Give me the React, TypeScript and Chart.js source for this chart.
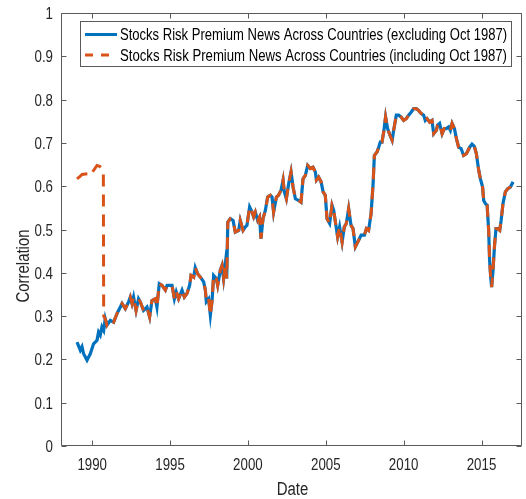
import React, { useEffect, useRef } from 'react';
import { Chart, registerables } from 'chart.js';

Chart.register(...registerables);

const dates = [
  1989.03, 1989.24, 1989.35, 1989.45, 1989.67, 1989.88, 1990.09, 1990.31, 1990.41, 1990.52,
  1990.63, 1990.74, 1990.84, 1990.95, 1991.17, 1991.38, 1991.6, 1991.81, 1991.92, 1992.13,
  1992.34, 1992.45, 1992.56, 1992.66, 1992.82, 1992.98, 1993.09, 1993.3, 1993.52, 1993.69,
  1993.84, 1994.06, 1994.16, 1994.31, 1994.49, 1994.7, 1994.81, 1995.13, 1995.28, 1995.4,
  1995.55, 1995.77, 1995.92, 1996.09, 1996.26, 1996.35, 1996.52, 1996.62, 1996.77, 1996.95,
  1997.16, 1997.27, 1997.33, 1997.48, 1997.59, 1997.7, 1997.8, 1997.97, 1998.06, 1998.23,
  1998.34, 1998.44, 1998.55, 1998.64, 1998.71, 1998.87, 1999.05, 1999.19, 1999.41, 1999.51,
  1999.69, 1999.84, 1999.94, 2000.11, 2000.27, 2000.37, 2000.48, 2000.63, 2000.75, 2000.84,
  2000.97, 2001.12, 2001.27, 2001.44, 2001.55, 2001.65, 2001.83, 2001.97, 2002.13, 2002.26,
  2002.34, 2002.47, 2002.62, 2002.77, 2002.9, 2003.05, 2003.26, 2003.41, 2003.54, 2003.69,
  2003.84, 2004.01, 2004.18, 2004.33, 2004.4, 2004.54, 2004.7, 2004.83, 2004.97, 2005.08,
  2005.25, 2005.4, 2005.51, 2005.62, 2005.76, 2005.89, 2006.05, 2006.19, 2006.32, 2006.47,
  2006.62, 2006.75, 2006.9, 2007.11, 2007.27, 2007.48, 2007.61, 2007.75, 2007.91, 2008.04,
  2008.12, 2008.29, 2008.4, 2008.5, 2008.61, 2008.72, 2008.84, 2008.97, 2009.1, 2009.26,
  2009.36, 2009.53, 2009.68, 2009.83, 2010.0, 2010.17, 2010.32, 2010.48, 2010.64, 2010.82,
  2010.96, 2011.12, 2011.29, 2011.39, 2011.5, 2011.67, 2011.82, 2011.93, 2012.1, 2012.18,
  2012.31, 2012.47, 2012.61, 2012.74, 2012.89, 2013.0, 2013.11, 2013.26, 2013.39, 2013.53,
  2013.69, 2013.85, 2014.03, 2014.24, 2014.39, 2014.54, 2014.67, 2014.82, 2014.93, 2015.07,
  2015.14, 2015.25, 2015.36, 2015.46, 2015.52, 2015.59, 2015.65, 2015.74, 2015.83, 2015.93,
  2016.04, 2016.17, 2016.26, 2016.38, 2016.53, 2016.68, 2016.85, 2017.03,
];

const exclValues = [
  0.24, 0.221, 0.229, 0.213, 0.198, 0.213, 0.236, 0.244, 0.263, 0.256,
  0.275, 0.267, 0.294, 0.279, 0.29, 0.286, 0.306, 0.321, 0.329, 0.317,
  0.333, 0.344, 0.329, 0.344, 0.313, 0.34, 0.333, 0.313, 0.321, 0.298,
  0.336, 0.34, 0.321, 0.375, 0.371, 0.36, 0.371, 0.371, 0.34, 0.356,
  0.34, 0.36, 0.344, 0.352, 0.371, 0.394, 0.39, 0.412, 0.398, 0.39,
  0.379, 0.36, 0.333, 0.34, 0.302, 0.336, 0.394, 0.387, 0.371, 0.406,
  0.417, 0.387, 0.421, 0.387, 0.517, 0.525, 0.521, 0.494, 0.498, 0.521,
  0.498, 0.506, 0.51, 0.552, 0.54, 0.529, 0.54, 0.521, 0.529, 0.479,
  0.525, 0.544, 0.575, 0.579, 0.575, 0.54, 0.575, 0.579, 0.591, 0.614,
  0.587, 0.571, 0.606, 0.633, 0.598, 0.571, 0.567, 0.563, 0.617, 0.625,
  0.648, 0.641, 0.644, 0.633, 0.614, 0.621, 0.61, 0.587, 0.579, 0.525,
  0.514, 0.556, 0.544, 0.517, 0.483, 0.506, 0.471, 0.506, 0.514, 0.548,
  0.51, 0.502, 0.46, 0.475, 0.487, 0.487, 0.502, 0.498, 0.537, 0.606,
  0.671, 0.679, 0.69, 0.702, 0.702, 0.725, 0.76, 0.733, 0.72, 0.706,
  0.729, 0.764, 0.764, 0.76, 0.752, 0.756, 0.764, 0.771, 0.779, 0.779,
  0.775, 0.768, 0.764, 0.752, 0.756, 0.748, 0.752, 0.721, 0.729, 0.741,
  0.745, 0.721, 0.733, 0.733, 0.737, 0.729, 0.745, 0.733, 0.71, 0.69,
  0.687, 0.671, 0.675, 0.69, 0.697, 0.692, 0.675, 0.637, 0.617, 0.598,
  0.567, 0.56, 0.556, 0.498, 0.429, 0.39, 0.367, 0.406, 0.46, 0.502,
  0.502, 0.498, 0.521, 0.56, 0.587, 0.594, 0.598, 0.61,
];

// Series including Oct 1987: differs only in the first window, then equals the other series
const inclEarlyDates = [1989.03, 1989.24, 1989.35, 1989.77, 1989.88, 1989.99, 1990.31, 1990.48, 1990.63, 1990.72, 1990.74];
const inclEarlyValues = [0.617, 0.623, 0.627, 0.629, 0.625, 0.631, 0.648, 0.646, 0.641, 0.636, 0.3];
const inclJoinAfter = 1990.8;

const xTicks = [1990, 1995, 2000, 2005, 2010, 2015];
const yTicks = [0, 0.1, 0.2, 0.3, 0.4, 0.5, 0.6, 0.7, 0.8, 0.9, 1];
const seriesLabels = [
  'Stocks Risk Premium News Across Countries (excluding Oct 1987)',
  'Stocks Risk Premium News Across Countries (including Oct 1987)',
];
const xTitle = 'Date';
const yTitle = 'Correlation';

const BLUE = '#0072BD';
const ORANGE = '#D95319';
const AXIS = '#262626';
const FRAME = '#5a5a5a';
const FONT = "'Liberation Sans', Arial, sans-serif";
const SQUEEZE = 0.83;

function squeezedText(ctx: any, text: string, x: number, y: number, align: string, sx: number, rot = 0) {
  ctx.save();
  ctx.translate(x, y);
  if (rot) ctx.rotate(rot);
  ctx.scale(sx, 1);
  ctx.textAlign = align;
  ctx.textBaseline = 'alphabetic';
  ctx.fillText(text, 0, 0);
  ctx.restore();
}

const boxPlugin = {
  id: 'boxTicks',
  afterDatasetsDraw(chart: any) {
    const { ctx, chartArea } = chart;
    const { left, right, top, bottom } = chartArea;
    const xs = chart.scales.x;
    const ys = chart.scales.y;
    ctx.save();
    ctx.strokeStyle = FRAME;
    ctx.lineWidth = 1;
    ctx.beginPath();
    const L = Math.round(left) + 0.5, R = Math.round(right) - 0.5;
    const T = Math.round(top) + 0.5, B = Math.round(bottom) - 0.5;
    ctx.rect(L, T, R - L, B - T);
    const tl = 5;
    xTicks.forEach((v) => {
      const px = Math.round(xs.getPixelForValue(v)) + 0.5;
      ctx.moveTo(px, B); ctx.lineTo(px, B - tl);
      ctx.moveTo(px, T); ctx.lineTo(px, T + tl);
    });
    yTicks.forEach((v) => {
      const py = Math.round(ys.getPixelForValue(v)) + 0.5;
      ctx.moveTo(L, py); ctx.lineTo(L + tl, py);
      ctx.moveTo(R, py); ctx.lineTo(R - tl, py);
    });
    ctx.stroke();

    // tick labels and axis titles (narrow, as in the original figure)
    ctx.fillStyle = AXIS;
    ctx.font = `16px ${FONT}`;
    xs.ticks.forEach((t: any) => {
      squeezedText(ctx, String(t.value), xs.getPixelForValue(t.value), bottom + 24, 'center', SQUEEZE);
    });
    ys.ticks.forEach((t: any) => {
      const lbl = String(Number(Number(t.value).toFixed(1)));
      squeezedText(ctx, lbl, left - 8, ys.getPixelForValue(t.value) + 6, 'right', SQUEEZE);
    });
    ctx.font = `18px ${FONT}`;
    squeezedText(ctx, xTitle, (left + right) / 2 + 1, bottom + 49, 'center', SQUEEZE);
    squeezedText(ctx, yTitle, 28.5, 266, 'center', SQUEEZE, -Math.PI / 2);
    ctx.restore();
  },
  afterDraw(chart: any) {
    const { ctx } = chart;
    ctx.save();
    const bx = 80.5, by = 21.5, bw = 431, bh = 45;
    ctx.fillStyle = '#ffffff';
    ctx.fillRect(bx, by, bw, bh);
    ctx.strokeStyle = FRAME;
    ctx.lineWidth = 1;
    ctx.strokeRect(bx, by, bw, bh);
    const rows = [34.5, 55];
    ctx.lineWidth = 3;
    ctx.strokeStyle = BLUE;
    ctx.beginPath();
    ctx.moveTo(85, rows[0]); ctx.lineTo(117, rows[0]);
    ctx.stroke();
    ctx.strokeStyle = ORANGE;
    ctx.setLineDash([8, 8]);
    ctx.beginPath();
    ctx.moveTo(85, rows[1]); ctx.lineTo(117, rows[1]);
    ctx.stroke();
    ctx.setLineDash([]);
    ctx.fillStyle = '#000000';
    ctx.font = `16px ${FONT}`;
    seriesLabels.forEach((t, i) => {
      const w = ctx.measureText(t).width;
      const sx = 387 / w;
      squeezedText(ctx, t, 120, rows[i] + 5.5, 'left', sx);
    });
    ctx.restore();
  },
};

export default function App() {
  const ref = useRef<HTMLCanvasElement>(null);
  useEffect(() => {
    document.body.style.margin = '0';
    const excl = dates.map((d, i) => ({ x: d, y: exclValues[i] }));
    const incl = inclEarlyDates
      .map((d, i) => ({ x: d, y: inclEarlyValues[i] }))
      .concat(excl.filter((p) => p.x > inclJoinAfter));
    const chart = new Chart(ref.current as HTMLCanvasElement, {
      type: 'line',
      data: {
        datasets: [
          {
            label: seriesLabels[0],
            data: excl,
            borderColor: BLUE,
            borderWidth: 3.2,
            pointRadius: 0,
            tension: 0,
            order: 2,
          },
          {
            label: seriesLabels[1],
            data: incl,
            borderColor: ORANGE,
            borderWidth: 3,
            borderDash: [12, 8],
            pointRadius: 0,
            tension: 0,
            order: 1,
          },
        ],
      },
      plugins: [boxPlugin],
      options: {
        responsive: false,
        animation: false,
        layout: { padding: { left: 0, top: 13, right: 4, bottom: 0 } },
        plugins: { legend: { display: false }, tooltip: { enabled: false } },
        scales: {
          x: {
            type: 'linear',
            min: 1988,
            max: 2017.6,
            grid: { display: false, drawTicks: false },
            border: { display: false },
            afterBuildTicks: (s: any) => { s.ticks = xTicks.map((v) => ({ value: v })); },
            afterFit: (s: any) => { s.height = 53; },
            ticks: { display: false, autoSkip: false },
            title: { display: false, text: xTitle },
          },
          y: {
            type: 'linear',
            min: 0,
            max: 1,
            grid: { display: false, drawTicks: false },
            border: { display: false },
            afterBuildTicks: (s: any) => { s.ticks = yTicks.map((v) => ({ value: v })); },
            afterFit: (s: any) => { s.width = 61; },
            ticks: { display: false, autoSkip: false },
            title: { display: false, text: yTitle },
          },
        },
      },
    } as any);
    return () => chart.destroy();
  }, []);
  return (
    <div style={{ width: 526, height: 499 }}>
      <canvas ref={ref} width={526} height={499} />
    </div>
  );
}
